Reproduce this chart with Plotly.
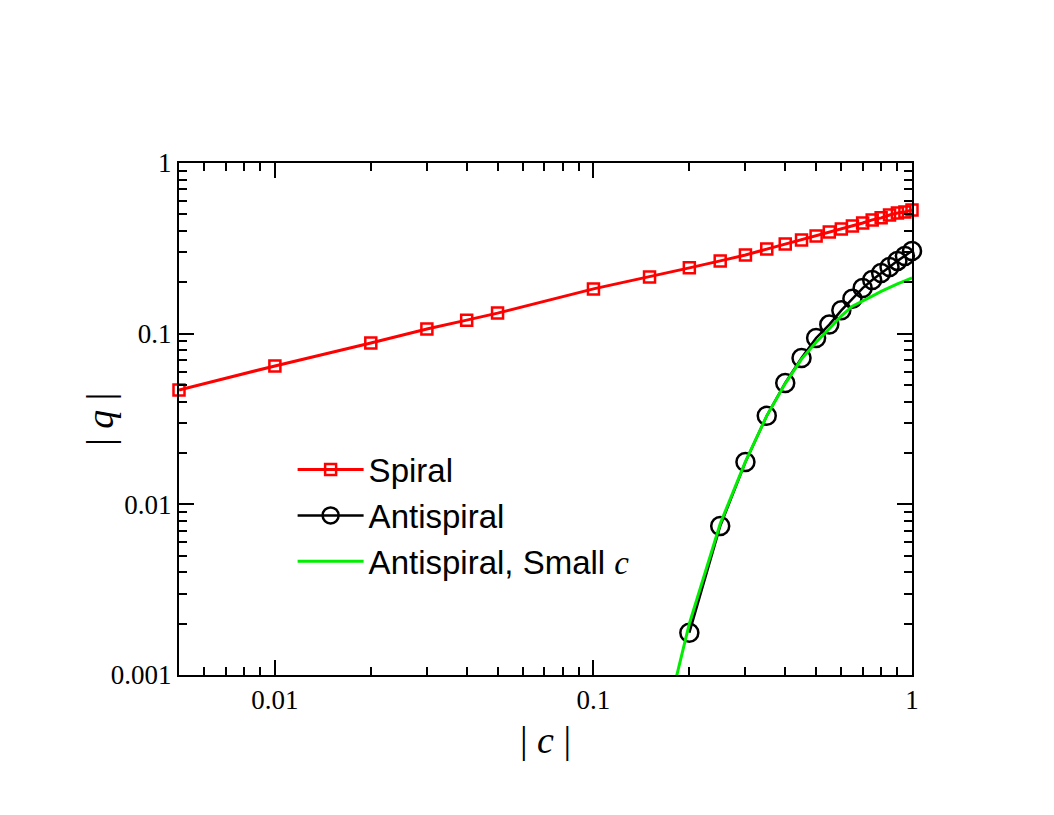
import plotly.graph_objects as go

# Spiral branch
spiral_c = [0.005, 0.01, 0.02, 0.03, 0.04, 0.05, 0.1, 0.15, 0.2, 0.25, 0.3, 0.35, 0.4,
            0.45, 0.5, 0.55, 0.6, 0.65, 0.7, 0.75, 0.8, 0.85, 0.9, 0.95, 1.0]
spiral_q = [0.0468, 0.0647, 0.0882, 0.1066, 0.120, 0.132, 0.183, 0.215, 0.243, 0.267, 0.289,
            0.313, 0.335, 0.354, 0.373, 0.394, 0.410, 0.428, 0.445, 0.464, 0.477, 0.496,
            0.509, 0.516, 0.531]

# Antispiral branch
anti_c = [0.2, 0.25, 0.3, 0.35, 0.4, 0.45, 0.5, 0.55, 0.6, 0.65, 0.7, 0.75, 0.8, 0.85,
          0.9, 0.95, 1.0]
anti_q = [0.00177, 0.00747, 0.0177, 0.033, 0.0514, 0.0721, 0.0944, 0.113, 0.137, 0.160,
          0.185, 0.206, 0.227, 0.246, 0.267, 0.285, 0.305]

# Antispiral, small-c approximation
small_c = [0.18, 0.2, 0.25, 0.3, 0.35, 0.4, 0.45, 0.5, 0.55, 0.6, 0.65, 0.7, 0.75, 0.8,
           0.85, 0.9, 0.95, 1.0]
small_q = [0.00089, 0.0020, 0.0077, 0.0178, 0.033, 0.051, 0.071, 0.089, 0.107, 0.127,
           0.145, 0.155, 0.166, 0.177, 0.187, 0.196, 0.204, 0.212]

x_major = [0.01, 0.1, 1]
x_major_text = ["0.01", "0.1", "1"]
y_major = [0.001, 0.01, 0.1, 1]
y_major_text = ["0.001", "0.01", "0.1", "1"]
x_minor = [m * d for d in [0.001, 0.01, 0.1] for m in range(2, 10)]
y_minor = [m * d for d in [0.001, 0.01, 0.1] for m in range(2, 10)]

SERIF = "Liberation Serif, Times New Roman, serif"
SANS = "Liberation Sans, Arial, sans-serif"

fig = go.Figure()
fig.add_trace(go.Scatter(
    x=spiral_c, y=spiral_q, mode="lines+markers", name="Spiral",
    line=dict(color="#ff0000", width=3),
    marker=dict(symbol="square-open", size=11, color="#ff0000", line=dict(width=2.5)),
    cliponaxis=False,
))
fig.add_trace(go.Scatter(
    x=anti_c, y=anti_q, mode="lines+markers", name="Antispiral",
    line=dict(color="#000000", width=2.5),
    marker=dict(symbol="circle-open", size=18, color="#000000", line=dict(width=2.5)),
    cliponaxis=False,
))
fig.add_trace(go.Scatter(
    x=small_c, y=small_q, mode="lines",
    name="Antispiral, Small <span style='font-family:Liberation Serif;font-style:italic'>c</span>",
    line=dict(color="#00ee00", width=3),
    cliponaxis=True,
))

axis_common = dict(
    type="log", showgrid=False, zeroline=False, showline=True, linecolor="black",
    linewidth=2, mirror="allticks", ticks="inside", ticklen=15, tickwidth=1.5,
    tickcolor="black", tickfont=dict(family=SERIF, size=27, color="black"),
)

fig.update_xaxes(
    **axis_common, range=[-2.30103, 0], tickmode="array", tickvals=x_major,
    ticktext=x_major_text,
    minor=dict(tickmode="array", tickvals=x_minor, ticks="inside", ticklen=8,
               tickwidth=1.5, tickcolor="black", showgrid=False),
)
fig.update_yaxes(
    **axis_common, range=[-3, 0], tickmode="array", tickvals=y_major,
    ticktext=y_major_text,
    minor=dict(tickmode="array", tickvals=y_minor, ticks="inside", ticklen=8,
               tickwidth=1.5, tickcolor="black", showgrid=False),
)

fig.add_annotation(
    text="|&nbsp;<i>c</i>&nbsp;|", xref="paper", yref="paper", x=0.5, y=-0.127,
    xanchor="center", yanchor="middle", showarrow=False,
    font=dict(family=SERIF, size=38, color="black"),
)
fig.add_annotation(
    text="|&nbsp;<i>q</i>&nbsp;|", xref="paper", yref="paper", x=-0.108, y=0.5,
    xanchor="center", yanchor="middle", showarrow=False, textangle=-90,
    font=dict(family=SERIF, size=38, color="black"),
)

fig.update_layout(
    width=1054, height=815,
    margin=dict(l=179, r=142, t=163, b=140),
    paper_bgcolor="white", plot_bgcolor="white",
    showlegend=True,
    legend=dict(
        x=0.155, y=0.456, xanchor="left", yanchor="top",
        bgcolor="rgba(0,0,0,0)", borderwidth=0,
        font=dict(family=SANS, size=33, color="black"),
        itemwidth=66, tracegroupgap=0,
    ),
)

fig.write_html("out.html")
